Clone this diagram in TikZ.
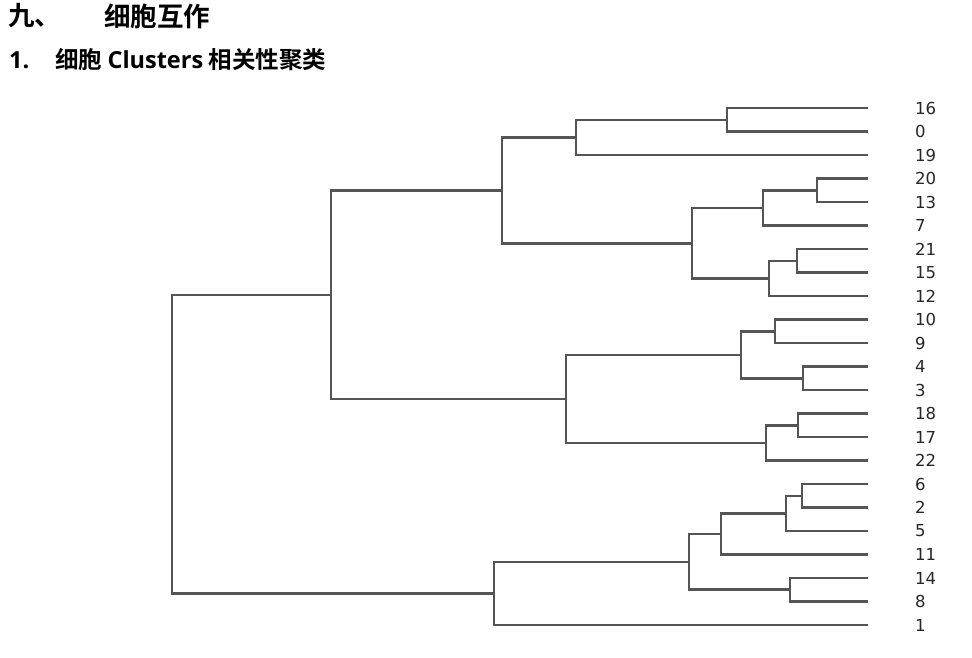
\documentclass[tikz,border=0pt]{standalone}
\usepackage{fontspec}
\newfontfamily\cjk{Noto Sans CJK SC}[BoldFont={Noto Sans CJK SC Bold}]
\newfontfamily\latn{Open Sans}
\newfontfamily\lblfont{DejaVu Sans}
\usetikzlibrary{positioning}
\definecolor{treegray}{RGB}{85,85,85}
\tikzset{
  dlink/.style={treegray,line width=2.4pt,line join=miter},
  lbl/.style={anchor=west,inner sep=0pt,font=\lblfont\fontsize{16.5}{16.5}\selectfont,text=black!85},
  headA/.style={anchor=west,inner sep=0pt,font=\cjk\bfseries\fontsize{26.5}{30}\selectfont},
  headB/.style={anchor=west,inner sep=0pt,font=\cjk\bfseries\fontsize{23.5}{26}\selectfont}
}
% one U-shaped link: children #1 and #2 joined at merge point #3
\newcommand{\dlink}[3]{\draw[dlink] (#1) -- (#1 -| #3) -- (#2 -| #3) -- (#2);}

\begin{document}
\begin{tikzpicture}[x=1pt,y=-1pt]
    \useasboundingbox (0,0) rectangle (972,658);

    % headings
    \node[headA] (secnum) at (8,16) {九、};
    \node[headA] (sectitle) at (104,16) {细胞互作};
    \node[headB] (subnum) at (9,60) {{\latn\bfseries 1.}};
    \node[headB] (subtitle) at (55,60) {细胞 {\latn\bfseries Clusters} 相关性聚类};

    % leaves
    \foreach \lab [count=\i from 0] in {16,0,19,20,13,7,21,15,12,10,9,4,3,18,17,22,6,2,5,11,14,8,1} {
      \coordinate (L\lab) at (868,108+23.5*\i);
      \node[lbl] (t\lab) at (915,108+23.5*\i) {\lab};
    }

    % merge points
    \coordinate (ma) at (727,119.75);
    \coordinate (mb) at (576,137.4);
    \coordinate (mc) at (817,190.5);
    \coordinate (md) at (763,208.25);
    \coordinate (me) at (797,261);
    \coordinate (mf) at (769,278.5);
    \coordinate (mg) at (692,243.4);
    \coordinate (mh) at (502,190.4);
    \coordinate (mi) at (775,331.5);
    \coordinate (mj) at (803,378.5);
    \coordinate (mk) at (741,355);
    \coordinate (ml) at (798,425.5);
    \coordinate (mm) at (766,443);
    \coordinate (mn) at (566,399);
    \coordinate (mo) at (331,294.7);
    \coordinate (mp) at (802,496);
    \coordinate (mq) at (786,513.5);
    \coordinate (mr) at (721,534);
    \coordinate (ms) at (790,589.5);
    \coordinate (mt) at (689,561.75);
    \coordinate (mu) at (494,593.4);
    \coordinate (root) at (172,444);

    \dlink{L16}{L0}{ma}
    \dlink{ma}{L19}{mb}
    \dlink{L20}{L13}{mc}
    \dlink{mc}{L7}{md}
    \dlink{L21}{L15}{me}
    \dlink{me}{L12}{mf}
    \dlink{md}{mf}{mg}
    \dlink{mb}{mg}{mh}
    \dlink{L10}{L9}{mi}
    \dlink{L4}{L3}{mj}
    \dlink{mi}{mj}{mk}
    \dlink{L18}{L17}{ml}
    \dlink{ml}{L22}{mm}
    \dlink{mk}{mm}{mn}
    \dlink{mh}{mn}{mo}
    \dlink{L6}{L2}{mp}
    \dlink{mp}{L5}{mq}
    \dlink{mq}{L11}{mr}
    \dlink{L14}{L8}{ms}
    \dlink{mr}{ms}{mt}
    \dlink{mt}{L1}{mu}
    \dlink{mo}{mu}{root}
\end{tikzpicture}
\end{document}
